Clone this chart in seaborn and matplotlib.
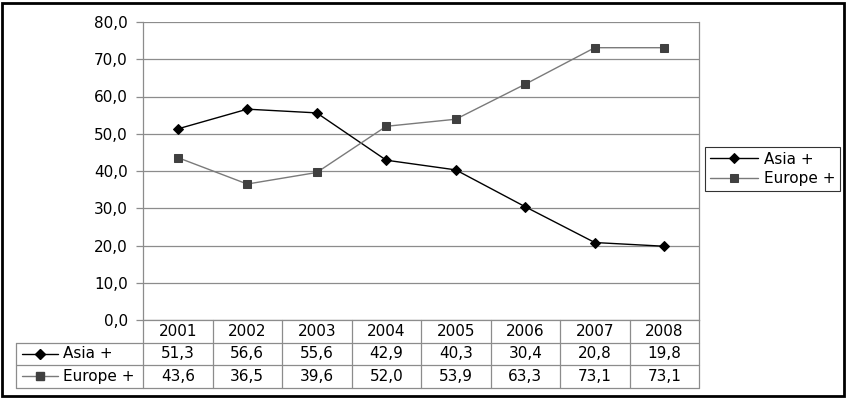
import matplotlib
matplotlib.use("Agg")
import matplotlib.pyplot as plt
import matplotlib.transforms as mtransforms
from matplotlib.lines import Line2D
from matplotlib.patches import Rectangle
import seaborn as sns
import pandas as pd

years = ["2001", "2002", "2003", "2004", "2005", "2006", "2007", "2008"]
asia = [51.3, 56.6, 55.6, 42.9, 40.3, 30.4, 20.8, 19.8]
europe = [43.6, 36.5, 39.6, 52.0, 53.9, 63.3, 73.1, 73.1]
series_names = ["Asia +", "Europe +"]
yticks = [0, 10, 20, 30, 40, 50, 60, 70, 80]

sns.set_theme(style="white")
plt.rcParams['font.family'] = ['DejaVu Sans']
plt.rcParams['text.color'] = 'black'
plt.rcParams['ytick.color'] = 'black'

W, H = 847, 398
fig = plt.figure(figsize=(W / 100, H / 100), dpi=100)
ax = fig.add_axes([143 / W, (H - 320) / H, (699 - 143) / W, (320 - 22) / H])

GRID = "#8c8c8c"
FS = 11

styles = {
    "Asia +": dict(color="black", marker="D", markersize=5.5,
                   markerfacecolor="black", markeredgecolor="black"),
    "Europe +": dict(color="#7a7a7a", marker="s", markersize=5.5,
                     markerfacecolor="#404040", markeredgecolor="#404040"),
}
values = {"Asia +": asia, "Europe +": europe}

for name in series_names:
    df = pd.DataFrame({"year": years, "value": values[name]})
    sns.lineplot(data=df, x="year", y="value", ax=ax, linewidth=1.0,
                 label=name, **styles[name])

ax.set_xlim(-0.5, len(years) - 0.5)
ax.set_ylim(0, 80)
ax.set_yticks(yticks)
ax.set_yticklabels([f"{v:.1f}".replace(".", ",") for v in yticks], fontsize=FS)
ax.set_xticks([])
ax.set_xlabel("")
ax.set_ylabel("")
ax.yaxis.grid(True, color=GRID, linewidth=0.9)
ax.tick_params(axis="y", which="both", left=True, length=5, width=0.9,
               color=GRID, pad=6, labelcolor="black")
for s in ["left", "right", "bottom"]:
    ax.spines[s].set_visible(True)
    ax.spines[s].set_color(GRID)
    ax.spines[s].set_linewidth(0.9)
ax.spines["top"].set_visible(False)

# Data table below the axes
trans = mtransforms.blended_transform_factory(ax.transData, ax.transAxes)
rh = 22.5 / 298.0
label_left = (16 - 143) / 556.0
n = len(years)
lkw = dict(color=GRID, linewidth=0.9, clip_on=False)

for k in range(1, 4):
    y = -k * rh
    ax.plot([label_left, 1.0], [y, y], transform=ax.transAxes, **lkw)
for i in range(n + 1):
    x = i - 0.5
    ax.plot([x, x], [0, -3 * rh], transform=trans, **lkw)
ax.plot([label_left, label_left], [-rh, -3 * rh], transform=ax.transAxes, **lkw)

for i, yr in enumerate(years):
    ax.text(i, -0.5 * rh, yr, transform=trans, ha="center", va="center",
            fontsize=FS, color="black")
for r, name in enumerate(series_names):
    yc = -(1.5 + r) * rh
    for i, v in enumerate(values[name]):
        ax.text(i, yc, f"{v:.1f}".replace(".", ","), transform=trans,
                ha="center", va="center", fontsize=FS, color="black")
    st = styles[name]
    x0 = (22 - 143) / 556.0
    x1 = (58 - 143) / 556.0
    ax.add_line(Line2D([x0, x1], [yc, yc], transform=ax.transAxes,
                       color=st["color"], linewidth=1.0, clip_on=False))
    ax.add_line(Line2D([(x0 + x1) / 2], [yc], transform=ax.transAxes,
                       marker=st["marker"], markersize=st["markersize"],
                       markerfacecolor=st["markerfacecolor"],
                       markeredgecolor=st["markeredgecolor"],
                       linestyle="none", clip_on=False))
    ax.text((63 - 143) / 556.0, yc, name, transform=ax.transAxes,
            ha="left", va="center", fontsize=FS, color="black")

leg = ax.legend(loc="center left", bbox_to_anchor=(705 / W, 1 - 169 / H),
                bbox_transform=fig.transFigure, frameon=True, fancybox=False,
                fontsize=FS, handlelength=3.2, handletextpad=0.35,
                borderpad=0.3, labelspacing=0.3, borderaxespad=0)
leg.get_frame().set_edgecolor("black")
leg.get_frame().set_linewidth(0.8)
for t in leg.get_texts():
    t.set_color("black")

fig.patches.append(Rectangle((2 / W, 2 / H), 1 - 5 / W, 1 - 5 / H,
                             transform=fig.transFigure, fill=False,
                             edgecolor="black", linewidth=2))

fig.savefig("out.png", dpi=100)
